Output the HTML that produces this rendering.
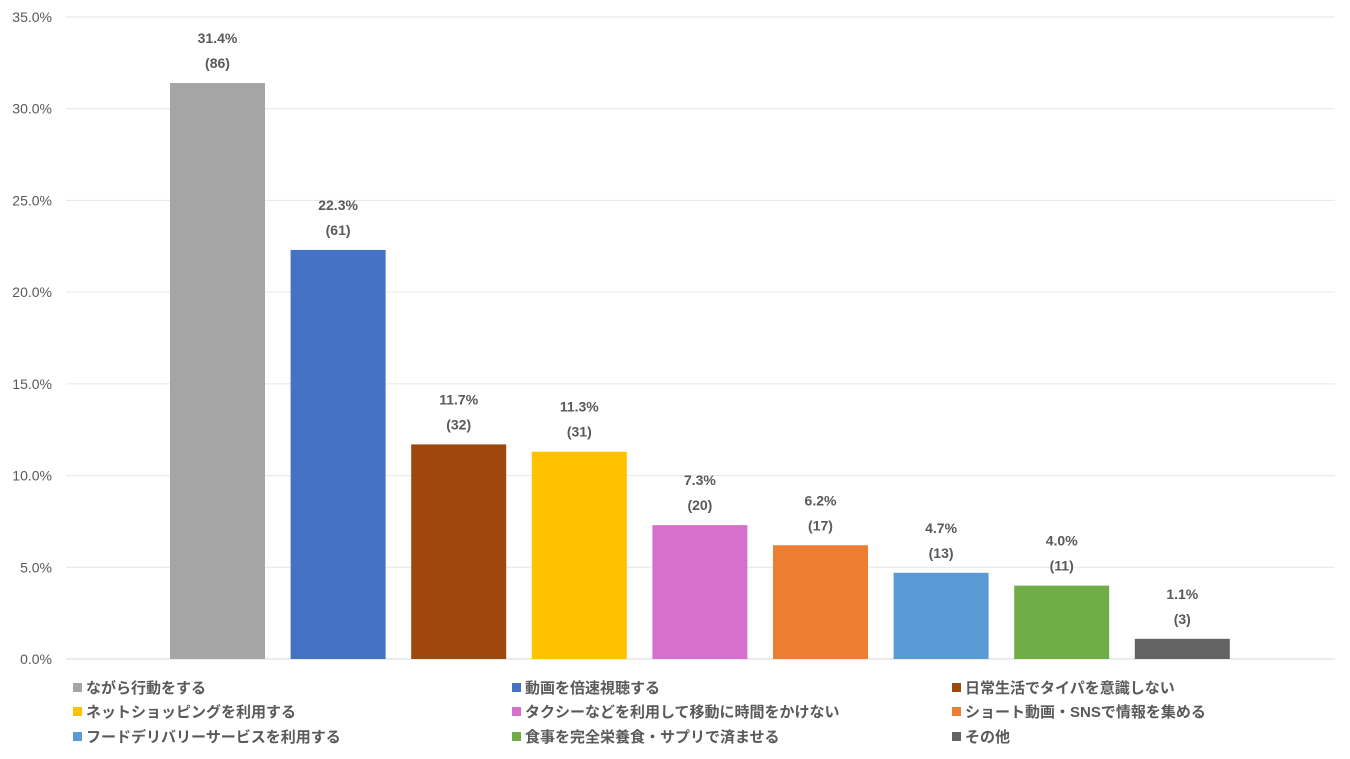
<!DOCTYPE html>
<html><head><meta charset="utf-8"><style>
body{margin:0;background:#fff;}
svg{display:block;font-family:"Liberation Sans","Noto Sans CJK JP",sans-serif;}
</style></head><body>
<svg id="chart" width="1350" height="759" viewBox="0 0 1350 759"></svg>
<script>
const categories=["ながら行動をする","動画を倍速視聴する","日常生活でタイパを意識しない","ネットショッピングを利用する","タクシーなどを利用して移動に時間をかけない","ショート動画・SNSで情報を集める","フードデリバリーサービスを利用する","食事を完全栄養食・サプリで済ませる","その他"];
const values=[31.4,22.3,11.7,11.3,7.3,6.2,4.7,4.0,1.1];
const counts=[86,61,32,31,20,17,13,11,3];
const colors=["#a5a5a5","#4472c4","#9e480e","#ffc000","#d670cc","#ed7d31","#5b9bd5","#70ad47","#636363"];
const yTicks=[0,5,10,15,20,25,30,35];
const NS="http://www.w3.org/2000/svg";
const svg=document.getElementById('chart');
function el(t,a,txt){const e=document.createElementNS(NS,t);for(const k in a)e.setAttribute(k,a[k]);if(txt!=null)e.textContent=txt;svg.appendChild(e);return e;}
const y0=659,pxPer=(659-17)/35;
function yS(v){return y0-v*pxPer;}
function xS(i){return 217.5+i*120.6;}
const bw=95;
yTicks.forEach(t=>{
  const g=el('line',{x1:66,x2:1335,y1:yS(t),y2:yS(t),stroke:t===0?'#d9d9d9':'#e6e6e6','stroke-width':1});
  
  
  const l=el('text',{x:52,y:yS(t)+5,'text-anchor':'end','font-size':14,fill:'#595959'},t.toFixed(1)+'%');
  
  
});
values.forEach((v,i)=>{
  const r=el('rect',{x:xS(i)-bw/2,y:yS(v),width:bw,height:y0-yS(v),fill:colors[i]});
  
  
  const a=el('text',{x:xS(i),y:yS(v)-40,'text-anchor':'middle','font-size':14,'font-weight':'bold',fill:'#595959'},v.toFixed(1)+'%');
  
  
  const b=el('text',{x:xS(i),y:yS(v)-15,'text-anchor':'middle','font-size':14,'font-weight':'bold',fill:'#595959'},'('+counts[i]+')');
  
  
});
const colX=[73,512,952],rowY=[688,712,737];
categories.forEach((c,i)=>{
  const x=colX[i%3],y=rowY[Math.floor(i/3)];
  const m=el('rect',{x:x,y:y-5,width:9,height:9,fill:colors[i]});
  
  
  const t=el('text',{x:x+13,y:y+5,'font-size':15,'font-weight':'bold',fill:'#595959'},c);
  
  
});
</script>
</body></html>
